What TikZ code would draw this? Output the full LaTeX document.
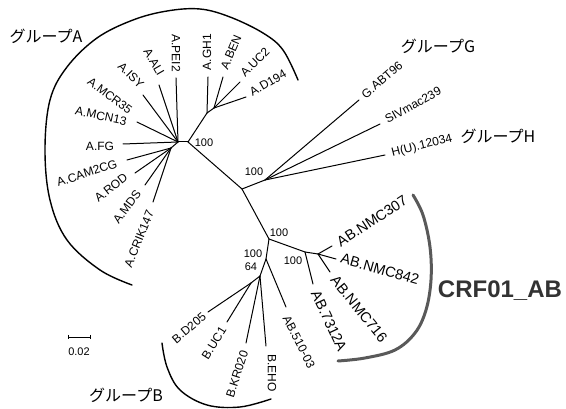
\documentclass[tikz,border=0pt]{standalone}
\usepackage{fontspec}
\setmainfont{Liberation Sans}
\newfontfamily\jpfont{Noto Sans CJK JP}
\tikzset{
  br/.style={line width=1pt, line cap=round},
  lf/.style={font=\fontsize{12}{12}\selectfont, inner sep=0pt},
  lfb/.style={font=\fontsize{14.5}{14.5}\selectfont, inner sep=0pt},
  bsv/.style={font=\fontsize{11}{11}\selectfont, inner sep=0pt},
  grp/.style={font=\jpfont\fontsize{16}{16}\selectfont, inner sep=0pt},
  grparc/.style={line width=1.4pt, line cap=round},
  crfarc/.style={line width=3pt, draw=black!65, line cap=round}
}
\begin{document}
\begin{tikzpicture}[x=1pt,y=-1pt]
\useasboundingbox (0,0) rectangle (566,409);
% internal nodes
\coordinate (hA) at (178,142);
\coordinate (nA) at (188,142);
\coordinate (lA) at (171,148);
\coordinate (s1) at (207,113);
\coordinate (s2) at (214,108);
\coordinate (n1) at (242,189);
\coordinate (g) at (265,180);
\coordinate (n2) at (269,239);
\coordinate (ab1) at (305,252);
\coordinate (ab2) at (318,254);
\coordinate (n3) at (266,259);
\coordinate (bh) at (260,276);
\coordinate (bs) at (251,283);
% leaf ends
\coordinate (lPEI2) at (176,78);
\coordinate (lALI) at (159,85);
\coordinate (lISY) at (143,95);
\coordinate (lMCN) at (137,122);
\coordinate (lFG) at (123,144);
\coordinate (lCAM) at (127,160);
\coordinate (lROD) at (135,173);
\coordinate (lMDS) at (145,185);
\coordinate (lCRIK) at (153,202);
\coordinate (lGH1) at (208,77);
\coordinate (lBEN) at (223,77);
\coordinate (lUC2) at (240,82);
\coordinate (lD194) at (246,97);
\coordinate (lG) at (359,100);
\coordinate (lSIV) at (380,124);
\coordinate (lH) at (385,155);
\coordinate (l307) at (332,246);
\coordinate (l842) at (336,259);
\coordinate (l716) at (330,272);
\coordinate (l7312) at (313,284);
\coordinate (l510) at (286,307);
\coordinate (lD205) at (208,312);
\coordinate (lUC1) at (227,322);
\coordinate (lKR) at (246,343);
\coordinate (lEHO) at (266,346);
% branches
\draw[br] (hA) -- (nA);
\draw[br] (nA) -- (s1);
\draw[br] (s1) -- (lGH1);
\draw[br] (s1) -- (s2);
\draw[br] (s2) -- (lBEN);
\draw[br] (s2) -- (lUC2);
\draw[br] (s2) -- (lD194);
\draw[br] (hA) -- (lPEI2);
\draw[br] (hA) -- (lALI);
\draw[br] (hA) -- (lISY);
\draw[br] (hA) -- (lMCN);
\draw[br] (hA) -- (lFG);
\draw[br] (hA) -- (lA);
\draw[br] (lA) -- (lCAM);
\draw[br] (lA) -- (lROD);
\draw[br] (lA) -- (lMDS);
\draw[br] (lA) -- (lCRIK);
\draw[br] (nA) -- (n1);
\draw[br] (n1) -- (g);
\draw[br] (g) -- (lG);
\draw[br] (g) -- (lSIV);
\draw[br] (g) -- (lH);
\draw[br] (n1) -- (n2);
\draw[br] (n2) -- (ab1);
\draw[br] (ab1) -- (ab2);
\draw[br] (ab1) -- (l7312);
\draw[br] (ab2) -- (l307);
\draw[br] (ab2) -- (l842);
\draw[br] (ab2) -- (l716);
\draw[br] (n2) -- (n3);
\draw[br] (n3) -- (l510);
\draw[br] (n3) -- (bh);
\draw[br] (bh) -- (bs);
\draw[br] (bs) -- (lD205);
\draw[br] (bs) -- (lUC1);
\draw[br] (bh) -- (lKR);
\draw[br] (bh) -- (lEHO);
% leaf labels
\node[lf, rotate=-12] (tMCN) at (101,116) {A.MCN13};
\node[lf, rotate=-37] (tMCR) at (110,96) {A.MCR35};
\node[lf, rotate=-45] (tISY) at (131,75) {A.ISY};
\node[lf, rotate=-60] (tALI) at (154,62) {A.ALI};
\node[lf, rotate=-90] (tPEI2) at (176,53) {A.PEI2};
\node[lf, rotate=90] (tGH1) at (207,52) {A.GH1};
\node[lf, rotate=67] (tBEN) at (231,52) {A.BEN};
\node[lf, rotate=45] (tUC2) at (255,62) {A.UC2};
\node[lf, rotate=30] (tD194) at (268,83) {A.D194};
\node[lf] (tFG) at (100,146) {A.FG};
\node[lf, rotate=18] (tCAM) at (87,173) {A.CAM2CG};
\node[lf, rotate=38] (tROD) at (111,188) {A.ROD};
\node[lf, rotate=53] (tMDS) at (127,207) {A.MDS};
\node[lf, rotate=68] (tCRIK) at (139,239) {A.CRIK147};
\node[lf, rotate=40] (tG) at (382,80) {G.ABT96};
\node[lf, rotate=29] (tSIV) at (413,105) {SIVmac239};
\node[lf, rotate=14] (tH) at (422,146) {H(U).12034};
\node[lfb, rotate=33] (t307) at (372,221) {AB.NMC307};
\node[lfb, rotate=-16] (t842) at (380,269) {AB.NMC842};
\node[lfb, rotate=-51] (t716) at (359,309) {AB.NMC716};
\node[lfb, rotate=-65] (t7312) at (329,321) {AB.7312A};
\node[lf, rotate=-63] (t510) at (299,342) {AB.510-03};
\node[lf, rotate=40] (tD205) at (189,328) {B.D205};
\node[lf, rotate=58] (tUC1) at (214,343) {B.UC1};
\node[lf, rotate=72] (tKR) at (237,374) {B.KR020};
\node[lf, rotate=-90] (tEHO) at (272,373) {B.EHO};
% bootstrap values
\node[bsv] (bA) at (204,143) {100};
\node[bsv] (bGH) at (254,172) {100};
\node[bsv] (bR) at (279,233) {100};
\node[bsv] (bB) at (253,254) {100};
\node[bsv] (bB2) at (251,267) {64};
\node[bsv] (bAB) at (293,261) {100};
% group arcs
\draw[grparc] plot[smooth, tension=0.6] coordinates {(298,80) (283,50) (263,33) (230,17) (200,9) (167,11) (133,20) (97,38) (67,67) (50,100) (45,150) (50,200) (67,240) (100,270) (132,285)};
\draw[grparc] plot[smooth, tension=0.6] coordinates {(162,343) (167,367) (180,390) (207,405) (240,407) (271,399)};
\draw[crfarc] plot[smooth, tension=0.6] coordinates {(413,195) (423,215) (430,247) (431,280) (426,310) (415,333) (395,350) (365,358) (338,361)};
% group names
\node[grp] (gA) at (46,36) {グループA};
\node[grp] (gG) at (438,46) {グループG};
\node[grp] (gH) at (498,136) {グループH};
\node[grp] (gB) at (126,395) {グループB};
\node[font=\bfseries\fontsize{24}{24}\selectfont, text=black!80, inner sep=0pt] (crf) at (500,291) {CRF01\_AB};
% scale bar
\coordinate (sb1) at (68,337);
\coordinate (sb2) at (90,337);
\draw[line width=0.8pt] (sb1) -- (sb2);
\draw[line width=0.8pt] (68,335) -- (68,339) (90,335) -- (90,339);
\node[bsv] (sbl) at (79,352) {0.02};
\end{tikzpicture}
\end{document}
